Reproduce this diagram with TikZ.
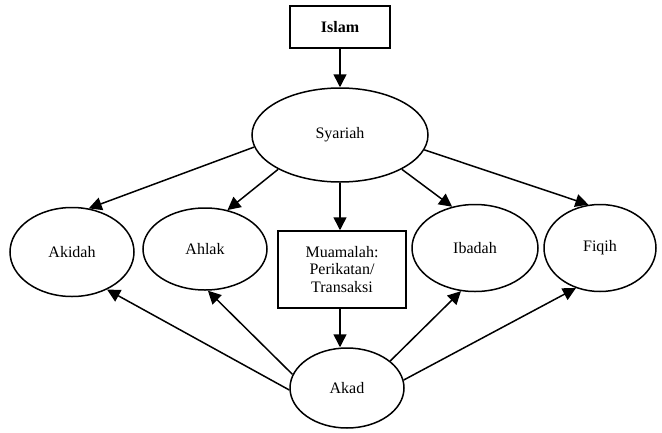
\documentclass[tikz,border=0pt]{standalone}
\usepackage{fontspec}
\setmainfont{Liberation Serif}
\usetikzlibrary{shapes.geometric,arrows.meta}
\begin{document}
\begin{tikzpicture}[x=1pt,y=-1pt,
  every node/.style={font=\fontsize{16}{17.5}\selectfont, inner sep=0pt},
  oval/.style={ellipse, draw, line width=1.5pt},
  boxed/.style={rectangle, draw, line width=1.5pt, align=center},
  link/.style={line width=1.5pt, -{Triangle[length=13pt,width=13pt]}}]
\useasboundingbox (0,0) rectangle (662,432);

% nodes
\node[boxed, minimum width=100pt, minimum height=42pt, font=\fontsize{16}{17.5}\selectfont\bfseries] (islam) at (340,27) {Islam};
\node[oval, minimum width=176pt, minimum height=94pt] (syariah) at (340,135) {Syariah};
\node[oval, minimum width=124pt, minimum height=89pt] (akidah) at (72,252) {Akidah};
\node[oval, minimum width=124pt, minimum height=82pt] (ahlak) at (205,249) {Ahlak};
\node[boxed, minimum width=128pt, minimum height=77pt] (muamalah) at (342,269.5) {Muamalah:\\Perikatan/\\Transaksi};
\node[oval, minimum width=126pt, minimum height=87pt] (ibadah) at (475,248) {Ibadah};
\node[oval, minimum width=112pt, minimum height=87pt] (fiqih) at (600,248) {Fiqih};
\node[oval, minimum width=114pt, minimum height=80pt] (akad) at (347,388) {Akad};

% connectors from the top
\draw[link] (islam.south) -- (syariah.north);
\draw[link] (syariah.188) -- (akidah.69);
\draw[link] (syariah.209) -- (ahlak.60);
\draw[link] (syariah.south -| islam.south) -- (muamalah.north -| islam.south);
\draw[link] (syariah.-29) -- (ibadah.119);
\draw[link] (syariah.-10) -- (fiqih.105);
\draw[link] (muamalah.south -| islam.south) -- (akad.north -| islam.south);

% connectors from Akad
\draw[link] (akad.182) -- (akidah.-47);
\draw[link] (akad.166) -- (ahlak.-86);
\draw[link] (akad.32) -- (ibadah.-108);
\draw[link] (akad.8) -- (fiqih.-121);
\end{tikzpicture}
\end{document}
